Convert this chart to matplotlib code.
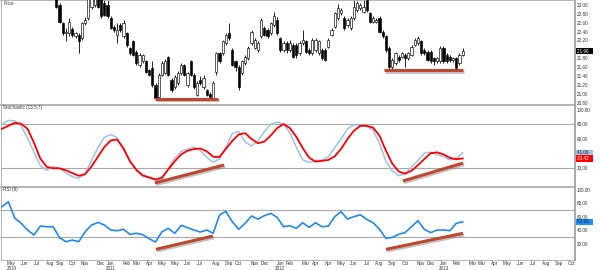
import numpy as np
import matplotlib.pyplot as plt
import matplotlib.patheffects as pe

plt.rcParams['font.family'] = ['Liberation Sans', 'DejaVu Sans']

# --- weekly candles, first drawn bar index ---
first_bar = 17
opens = [23.25, 23.00, 22.59, 22.36, 22.36, 22.45, 22.29, 22.33, 22.25, 22.59,
         22.70, 22.96, 23.00, 23.20, 23.15, 23.05, 23.00, 22.70, 22.51, 22.33,
         22.55, 22.29, 22.36, 22.03, 22.18, 21.95, 21.65, 21.73, 21.73, 21.54,
         21.58, 21.20, 20.94, 21.43, 21.47, 21.84, 21.31, 21.16, 21.24, 21.47,
         21.65, 21.20, 21.73, 21.43, 20.98, 21.31, 21.16, 21.09, 21.00, 20.90,
         21.50, 21.91, 21.91, 22.14, 22.36, 21.99, 21.73, 21.61, 21.47, 21.69,
         21.80, 22.14, 22.03, 21.99, 22.29, 22.48, 22.44, 22.36, 22.55, 22.66,
         22.25, 21.99, 22.14, 21.99, 22.10, 22.10, 21.91, 22.14, 22.18, 21.99,
         21.91, 21.99, 21.91, 21.99, 21.99, 22.06, 22.33, 22.51, 22.70, 22.81,
         22.70, 22.55, 22.48, 22.70, 22.89, 22.92, 22.85, 23.11, 22.81, 22.62,
         22.62, 22.70, 22.40, 22.29, 22.03, 21.61, 21.69, 21.84, 21.84, 21.88,
         21.80, 21.88, 22.10, 22.14, 22.18, 21.99, 21.95, 21.95, 21.80, 21.73,
         21.73, 22.03, 21.88, 21.84, 21.76, 21.80, 21.69, 21.88]
highs = [23.30, 23.05, 22.62, 22.48, 22.71, 22.50, 22.40, 22.36, 22.62, 22.72,
         23.25, 23.30, 23.25, 23.25, 23.20, 23.15, 23.10, 22.75, 22.55, 22.59,
         22.60, 22.66, 22.40, 22.05, 22.20, 21.98, 21.92, 21.90, 21.76, 21.56,
         21.73, 21.25, 21.47, 21.75, 21.78, 21.86, 21.35, 21.43, 21.52, 21.70,
         21.68, 21.50, 21.76, 21.47, 21.30, 21.40, 21.42, 21.12, 21.05, 21.30,
         21.95, 21.95, 22.22, 22.36, 22.59, 22.02, 21.76, 21.65, 21.76, 21.88,
         22.07, 22.44, 22.25, 22.18, 22.70, 22.52, 22.48, 22.62, 22.85, 22.72,
         22.28, 22.18, 22.18, 22.20, 22.14, 22.14, 22.18, 22.44, 22.21, 22.02,
         22.25, 22.25, 22.21, 22.02, 22.02, 22.25, 22.48, 22.85, 23.02, 22.93,
         22.74, 22.70, 22.74, 23.11, 23.08, 23.05, 23.11, 23.15, 22.85, 22.74,
         22.70, 22.74, 22.44, 22.33, 22.07, 21.80, 21.95, 21.88, 21.95, 21.91,
         21.95, 22.10, 22.25, 22.29, 22.21, 22.02, 21.99, 21.99, 21.84, 21.84,
         22.07, 22.07, 21.91, 21.88, 21.84, 21.84, 21.91, 22.02]
lows = [22.92, 22.59, 22.33, 22.18, 22.29, 22.28, 22.25, 21.91, 22.20, 22.55,
        22.65, 22.90, 22.95, 22.92, 22.70, 22.75, 22.70, 22.45, 22.40, 22.14,
        22.40, 22.25, 22.05, 21.88, 21.85, 21.65, 21.60, 21.70, 21.47, 21.40,
        21.15, 20.88, 20.90, 21.40, 21.45, 21.40, 21.05, 21.12, 21.20, 21.43,
        21.40, 21.16, 21.40, 21.12, 20.95, 21.20, 21.10, 20.95, 20.90, 20.88,
        21.43, 21.70, 21.88, 22.10, 22.22, 21.62, 21.52, 21.09, 21.43, 21.65,
        21.76, 22.10, 22.00, 21.95, 22.25, 22.30, 22.25, 22.33, 22.50, 22.33,
        21.95, 21.95, 21.93, 21.95, 21.80, 21.80, 21.88, 22.10, 21.91, 21.88,
        21.88, 21.95, 21.88, 21.76, 21.73, 22.03, 22.30, 22.48, 22.66, 22.78,
        22.44, 22.51, 22.44, 22.66, 22.85, 22.88, 22.82, 22.85, 22.59, 22.59,
        22.59, 22.36, 22.25, 21.95, 21.57, 21.57, 21.65, 21.72, 21.80, 21.61,
        21.76, 21.85, 22.07, 22.10, 21.88, 21.88, 21.73, 21.69, 21.65, 21.69,
        21.69, 21.69, 21.69, 21.72, 21.72, 21.54, 21.65, 21.85]
closes = [22.96, 22.62, 22.36, 22.40, 22.62, 22.33, 22.36, 22.18, 22.59, 22.66,
          23.15, 23.20, 23.15, 22.96, 22.74, 22.78, 22.74, 22.48, 22.44, 22.44,
          22.44, 22.59, 22.10, 21.91, 21.88, 21.69, 21.88, 21.88, 21.50, 21.43,
          21.20, 20.90, 21.43, 21.69, 21.73, 21.43, 21.09, 21.39, 21.47, 21.65,
          21.43, 21.47, 21.43, 21.16, 21.24, 21.24, 21.35, 20.98, 20.92, 21.24,
          21.91, 21.73, 22.18, 22.33, 22.25, 21.65, 21.61, 21.16, 21.73, 21.84,
          22.03, 22.40, 22.21, 22.14, 22.66, 22.33, 22.29, 22.59, 22.74, 22.36,
          21.99, 22.14, 21.99, 22.14, 21.84, 21.88, 22.14, 22.21, 21.95, 21.91,
          22.21, 22.21, 22.18, 21.80, 21.76, 22.21, 22.44, 22.81, 22.93, 22.89,
          22.48, 22.66, 22.70, 22.96, 23.04, 23.00, 22.96, 22.89, 22.62, 22.70,
          22.66, 22.40, 22.29, 21.99, 21.61, 21.76, 21.91, 21.76, 21.91, 21.80,
          21.91, 22.06, 22.21, 22.25, 21.91, 21.91, 21.76, 21.73, 21.73, 21.80,
          22.03, 21.73, 21.73, 21.76, 21.80, 21.58, 21.88, 21.96]

# --- oscillators, one value every 2nd bar starting at bar 0 ---
ind_step = 2
stoch_k = [80.7, 85.1, 84.8, 77.7, 61, 41.9, 23.7, 17.2, 22.6, 19.6,
           13.9, 8.7, 6.2, 12.6, 30.8, 48.3, 62.1, 66.1, 61.8, 45.7,
           28.7, 17, 8.8, 6.9, 3.7, 4.7, 20.4, 33.8, 43.1, 45.9,
           49, 44, 35, 28.3, 32.7, 49.4, 67.2, 70.6, 55.9, 50.6,
           57.8, 70.1, 79.9, 83, 80.3, 68.3, 49, 31.4, 28.1, 31,
           31, 35.6, 48.1, 59.9, 73.8, 79.3, 78.6, 77, 71.7, 53.5,
           29.5, 16.3, 9.9, 12.3, 21.8, 30.6, 40.6, 41.9, 38.9, 35.9,
           31.4, 33.4, 41.06]
stoch_d = [73.8, 78, 82, 80.7, 73.8, 54.9, 33.1, 21.9, 20, 20,
           17.2, 13.5, 9.7, 12.1, 22.5, 35.9, 49, 57.9, 59.3, 46.9,
           29.8, 17.9, 10.3, 7.7, 4.8, 7.3, 18.6, 29.5, 38.9, 43.9,
           46.3, 47, 43.2, 35.7, 35.4, 46.6, 57.4, 66.2, 67.9, 60,
           54.1, 56.4, 64.7, 74.8, 80.3, 74.8, 62.9, 47.6, 34.5, 29.1,
           30.1, 31.3, 36.3, 46.5, 60, 71.2, 77.9, 77.9, 75.4, 64.4,
           44.1, 26.3, 15.6, 12.7, 16.7, 24.1, 32.6, 40.6, 41.7, 39,
           34.2, 32.4, 33.42]
rsi = [74.8, 82.1, 58.3, 50.5, 40.7, 33.4, 46.5, 45.5, 45.5, 29.5,
       23.6, 26, 23.6, 38.2, 48, 51.8, 48, 40.7, 39.7, 41.7,
       34.4, 35.9, 33.9, 28, 23.1, 38.2, 43.2, 35.9, 47.5, 44.2,
       40.7, 37.7, 40.7, 35.9, 62.7, 68, 52.8, 41.7, 50.5, 61.2,
       56.8, 61.7, 65.1, 59.3, 45.5, 47, 43.2, 51.4, 44.5, 51.4,
       45.5, 46.5, 60.2, 67.5, 56.8, 60.2, 63.2, 56.3, 51.4, 41.7,
       28.5, 29.9, 34.4, 36.9, 45.5, 54.3, 41.7, 36.9, 40.7, 40.7,
       39.7, 50.5, 52.66]

# --- hand drawn divergence lines: (bar0, value0, bar1, value1) ---
price_lines = [(47.8, 20.89, 67.5, 20.89), (119.4, 21.54, 144.1, 21.54)]
stoch_lines = [(47.8, 0.0, 69.4, 24.5), (125.3, 2.7, 144.1, 27.2)]
rsi_lines = [(48.1, 12.4, 65.9, 31.9), (120.0, 12.4, 144.1, 35.9)]

# --- axis labels ---
price_ticks = [20.8, 21.0, 21.2, 21.4, 21.6, 21.8, 22.2, 22.4, 22.6, 22.8, 23.0]
stoch_ticks = [20, 60, 80, 100]
rsi_ticks = [20, 40, 60, 80, 100]
tick_bars = [3, 7, 11, 15, 18, 22, 26, 31, 34, 39, 42, 46, 50, 54, 58, 62, 67,
             71, 74, 79, 82, 87, 90, 95, 98, 102, 106, 110, 114, 118, 122, 126,
             131, 134, 138, 142, 147, 150, 154, 158, 162, 166, 170, 174, 178]
months = ['May', 'Jun', 'Jul', 'Aug', 'Sep', 'Oct', 'Nov', 'Dec',
          'Jan', 'Feb', 'Mar', 'Apr', 'May', 'May', 'Jun', 'Jul', 'Aug', 'Sep', 'Oct', 'Nov', 'Dec',
          'Jan', 'Feb', 'Mar', 'Apr', 'Apr', 'May', 'Jun', 'Jul', 'Aug', 'Sep', 'Oct', 'Nov', 'Dec',
          'Jan', 'Feb', 'Mar', 'Mar', 'Apr', 'May', 'Jun', 'Jul', 'Aug', 'Sep', 'Oct']
years = {0: '2010', 8: '2011', 21: '2012', 34: '2013'}

TREND = '#C0472F'
GRID = '#A8A8A8'
TXT = '#333333'
FS = 3.3

fig = plt.figure(figsize=(6, 2.7), dpi=100)
W = 574 / 600
ax_p = fig.add_axes([1 / 600, 1 - 105 / 270, W, 105 / 270])
ax_s = fig.add_axes([1 / 600, 1 - 187 / 270, W, 82 / 270])
ax_r = fig.add_axes([1 / 600, 10 / 270, W, 73 / 270])

xlim = (-0.3, 179.1)
for ax in (ax_p, ax_s, ax_r):
    ax.set_xlim(*xlim)
    ax.yaxis.tick_right()
    ax.tick_params(axis='y', length=0, pad=1.5, labelsize=FS, labelcolor=TXT)
    ax.tick_params(axis='x', length=0)
    for s in ax.spines.values():
        s.set_color(GRID)
        s.set_linewidth(0.6)
    ax.spines['right'].set_linewidth(1.4)
    ax.spines['top'].set_linewidth(1.2)

# --- price panel ---
o = np.array(opens)
h = np.array(highs)
l = np.array(lows)
c = np.array(closes)
bx = first_bar + np.arange(len(o))
up = c >= o
ax_p.vlines(bx, l, h, color='black', lw=0.6, zorder=2)
ax_p.bar(bx, np.maximum(np.abs(c - o), 0.012), bottom=np.minimum(o, c), width=0.66,
         color=np.where(up, 'white', 'black'), edgecolor='black', linewidth=0.45, zorder=3)
ax_p.set_ylim(20.75, 23.11)
ax_p.set_yticks(price_ticks)
ax_p.set_yticklabels([f'{v:.2f}' for v in price_ticks])
ax_p.set_xticks([])
ax_p.text(0.004, 0.995, 'Price', transform=ax_p.transAxes, fontsize=FS, color=TXT, va='top')

# --- stochastic panel ---
ix = np.arange(len(stoch_k)) * ind_step
ax_s.axhline(80, color=GRID, lw=0.8, zorder=1)
ax_s.axhline(20, color=GRID, lw=0.8, zorder=1)
ax_s.plot(ix, stoch_k, color='#9CC3E6', lw=1.1, zorder=3)
ax_s.plot(ix, stoch_d, color='#FF0000', lw=1.3, zorder=4)
ax_s.set_ylim(-5.5, 106.3)
ax_s.set_yticks(stoch_ticks)
ax_s.set_yticklabels([f'{v:.2f}' for v in stoch_ticks])
ax_s.set_xticks([])
ax_s.text(0.004, 0.995, 'Stochastic (13,5,7)', transform=ax_s.transAxes, fontsize=FS, color=TXT, va='top')

# --- RSI panel ---
ax_r.axhline(70, color=GRID, lw=0.8, zorder=1)
ax_r.axhline(30, color=GRID, lw=0.8, zorder=1)
ax_r.plot(ix, rsi, color='#2188F0', lw=1.2, zorder=3)
ax_r.set_ylim(-3.2, 103.7)
ax_r.set_yticks(rsi_ticks)
ax_r.set_yticklabels([f'{v:.2f}' for v in rsi_ticks])
ax_r.set_xticks(tick_bars)
ax_r.set_xticklabels([m + '\n' + years.get(i, '') for i, m in enumerate(months)],
                     fontsize=FS, color=TXT, linespacing=1.0)
ax_r.tick_params(axis='x', pad=1)
ax_r.text(0.004, 0.995, 'RSI (9)', transform=ax_r.transAxes, fontsize=FS, color=TXT, va='top')

# --- divergence lines with a soft shadow ---
shadow = [pe.SimpleLineShadow(offset=(0.8, -1.2), shadow_color='#888888', alpha=0.5), pe.Normal()]
for ax, lines in ((ax_p, price_lines), (ax_s, stoch_lines), (ax_r, rsi_lines)):
    for x0, y0, x1, y1 in lines:
        ax.plot([x0, x1], [y0, y1], color=TREND, lw=2.2, solid_capstyle='butt',
                path_effects=shadow, zorder=6)

# --- last value tags on the right scale ---
def tag(ax, val, bg, fg):
    ax.text(1.003, val, f'{val:.2f}   ', transform=ax.get_yaxis_transform(),
            fontsize=FS, color=fg, va='center', ha='left', clip_on=False,
            bbox=dict(boxstyle='square,pad=0.15', fc=bg, ec='none'), zorder=10)

tag(ax_p, closes[-1], 'black', 'white')
tag(ax_s, stoch_k[-1], '#9CC3E6', '#222222')
tag(ax_s, stoch_d[-1], '#FF0000', 'white')
tag(ax_r, rsi[-1], '#1E8FFF', '#222222')

fig.savefig('out.png', dpi=100, facecolor='white')
